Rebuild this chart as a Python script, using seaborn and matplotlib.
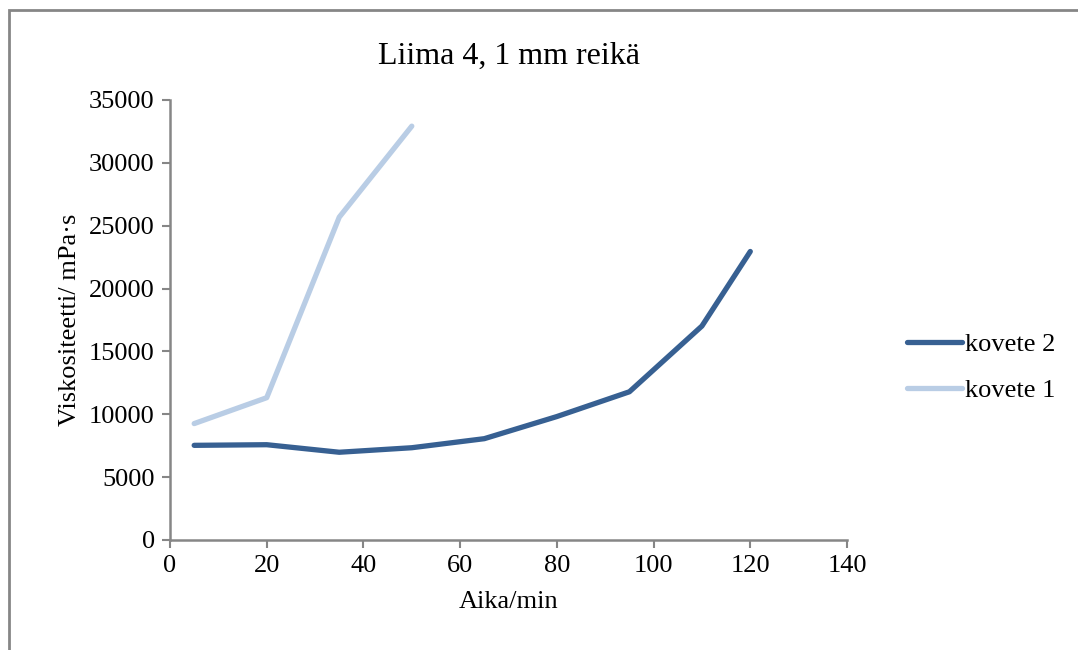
import pandas as pd
import matplotlib.pyplot as plt
import seaborn as sns
from matplotlib.patches import Rectangle

# data
aika_k2 = [5, 20, 35, 50, 65, 80, 95, 110, 120]
visk_k2 = [7530, 7580, 6980, 7340, 8060, 9820, 11790, 17020, 22950]
aika_k1 = [5, 20, 35, 50]
visk_k1 = [9260, 11320, 25680, 32920]

series_names = ['kovete 2', 'kovete 1']
series_colors = ['#376092', '#B9CDE5']

df = pd.concat([
    pd.DataFrame({'Aika': aika_k2, 'Visk': visk_k2, 'Sarja': series_names[0]}),
    pd.DataFrame({'Aika': aika_k1, 'Visk': visk_k1, 'Sarja': series_names[1]}),
])

sns.set_theme(style='white')
plt.rcParams['font.family'] = ['Liberation Serif', 'DejaVu Serif']
plt.rcParams['text.color'] = 'black'
plt.rcParams['axes.labelcolor'] = 'black'

fig = plt.figure(figsize=(10.78, 6.5), dpi=100)
ax = fig.add_axes([170 / 1078, 1 - 540 / 650, (847 - 170) / 1078, 440 / 650])

sns.lineplot(data=df, x='Aika', y='Visk', hue='Sarja', hue_order=series_names,
             palette=series_colors, linewidth=3.8, sort=False, ax=ax,
             solid_capstyle='round', solid_joinstyle='round')

ax.set_xlim(0, 140)
ax.set_ylim(0, 35000)
ax.set_xticks(range(0, 141, 20))
ax.set_yticks(range(0, 35001, 5000))

gray = '#868686'
for side in ['top', 'right']:
    ax.spines[side].set_visible(False)
for side in ['left', 'bottom']:
    ax.spines[side].set_color(gray)
    ax.spines[side].set_linewidth(1.8)
ax.tick_params(axis='both', which='major', direction='out', length=6, width=1.5,
               color=gray, labelsize=19, labelcolor='black', pad=5,
               bottom=True, left=True)

ax.set_xlabel('Aika/min', fontsize=19, labelpad=10)
ax.set_ylabel('Viskositeetti/ mPa·s', fontsize=19, labelpad=6)
ax.set_title('Liima 4, 1 mm reikä', fontsize=23, pad=26, color='black')

leg = ax.legend(loc='center left', bbox_to_anchor=(1.053, 0.393), frameon=False,
                fontsize=19, handlelength=2.1, handletextpad=0.1, labelspacing=0.85)

# outer chart border like the Excel chart area
fig.patches.append(Rectangle((9 / 1078, -0.05), 1.1, 1 - 10 / 650 + 0.05,
                             transform=fig.transFigure, fill=False,
                             edgecolor=gray, linewidth=2, zorder=0))

fig.savefig('out.png', dpi=100)
plt.close(fig)
